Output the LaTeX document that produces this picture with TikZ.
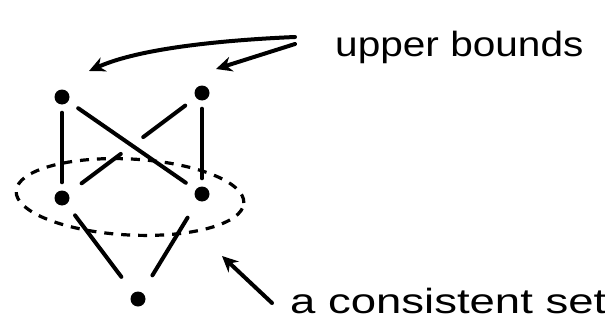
\documentclass[tikz,border=0pt]{standalone}
\usepackage{fontspec}
\usepackage{graphicx}
\setmainfont{Liberation Sans}
\usetikzlibrary{arrows.meta,calc}
\begin{document}
\begin{tikzpicture}[x=1pt,y=1pt,
  dot/.style={circle,fill=black,inner sep=0pt,minimum size=15pt},
  edge/.style={line width=4pt,line cap=round,shorten <=8pt,shorten >=8pt},
  pointer/.style={line width=4pt,line cap=round,-{Stealth[length=16pt,width=15pt]}},
  label/.style={font=\fontsize{35}{40}\selectfont,inner sep=0pt,anchor=base west},
  setline/.style={line width=3.2pt,dash pattern=on 9pt off 8pt}]
\useasboundingbox (0,0) rectangle (605,-329);
% dots
\node[dot] (tl) at (62,-97) {};
\node[dot] (tr) at (202,-93) {};
\node[dot] (ml) at (62,-198) {};
\node[dot] (mr) at (202,-194) {};
\node[dot] (bt) at (138,-299) {};
% edges
\draw[edge] (tl) -- (ml);
\draw[edge] (tr) -- (mr);
\draw[edge,shorten <=12pt,shorten >=12pt] (tl) -- (mr);
\draw[line width=4pt,line cap=round] ($(tr)!0.12!(ml)$) -- ($(tr)!0.42!(ml)$);
\draw[line width=4pt,line cap=round] ($(tr)!0.58!(ml)$) -- ($(tr)!0.86!(ml)$);
\draw[edge,shorten <=14pt,shorten >=20pt] (ml) -- (bt);
\draw[edge,shorten <=20pt,shorten >=20pt] (mr) -- (bt);
% consistent set
\draw[setline,rotate around={-3:(130,-197)}] (130,-197) ellipse [x radius=114pt,y radius=38pt];
% labels
\node[label] (ub) at (335,-57) {\scalebox{1.16}[1]{upper bounds}};
\node[label] (cs) at (290,-313) {\scalebox{1.3}[1]{a consistent set}};
\coordinate (t1) at (295,-37);
\coordinate (t2) at (295,-44);
\coordinate (h1) at (89,-71);
\coordinate (h2) at (216,-69);
\coordinate (t3) at (272,-303);
\coordinate (h3) at (222,-256);
\draw[pointer] (t1) .. controls (225,-40) and (140,-48) .. (h1);
\draw[pointer] (t2) -- (h2);
\draw[pointer] (t3) -- (h3);
\end{tikzpicture}
\end{document}
